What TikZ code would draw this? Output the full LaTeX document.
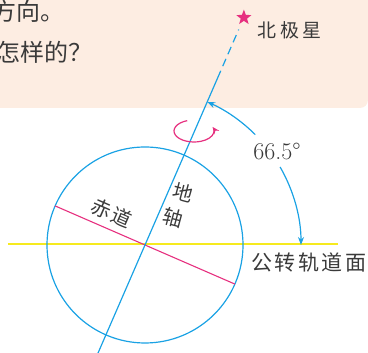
\documentclass[tikz,border=0pt]{standalone}
\usepackage{fontspec}
\usetikzlibrary{arrows.meta,shapes.geometric,calc}
\newfontfamily\cjk{Noto Sans CJK SC}
\definecolor{peach}{HTML}{FDEDE2}
\definecolor{skyb}{HTML}{1AA2E4}
\definecolor{rose}{HTML}{E6307F}
\definecolor{yel}{HTML}{F6EA1E}
\definecolor{ink}{HTML}{3A3A3A}
\tikzset{
  blueline/.style={draw=skyb,line width=1.2pt},
  tip/.style={-{Stealth[length=8pt,width=6pt]}},
  lbl/.style={text=ink,inner sep=0pt,font=\cjk\fontsize{20}{22}\selectfont},
}
\begin{document}
\begin{tikzpicture}[x=1pt,y=1pt]
\useasboundingbox (0,0) rectangle (368,353);
\clip (0,0) rectangle (368,353);
% background panel
\fill[peach,rounded corners=8pt] (-10,245) rectangle (368,365);
% top text (cut off at the left edge, as in the reference)
\node[anchor=west,text=ink,inner sep=0pt,font=\cjk\fontsize{24}{26}\selectfont] (t1) at (-8,342) {方向。};
\node[anchor=west,text=ink,inner sep=0pt,font=\cjk\fontsize{24}{26}\selectfont] (t2) at (-4,301) {怎样的？};
% geometry
\coordinate (O) at (145,108);
\coordinate (axB) at ($(O)+(246.5:125pt)$);
\coordinate (axS) at ($(O)+(66.5:182pt)$);
\coordinate (axD) at ($(O)+(66.5:235pt)$);
\coordinate (eqL) at ($(O)+(156.5:98pt)$);
\coordinate (eqR) at ($(O)+(-23.5:98pt)$);
\coordinate (yL) at (8,109);
\coordinate (yR) at (338,109);
% yellow orbit plane
\draw[yel,line width=1.6pt] (yL) -- (yR);
% earth circle
\draw[blueline] (O) circle[radius=98pt];
% equator
\draw[rose,line width=1.1pt] (eqL) -- (eqR);
% axis
\draw[blueline] (axB) -- (axS);
\draw[blueline,dash pattern=on 8pt off 5pt] (axS) -- (axD);
% star
\node[star,star points=5,star point ratio=2.4,fill=rose,minimum size=16pt,inner sep=0pt] (star) at ($(O)+(66.5:248pt)$) {};
% angle arc
\draw[blueline,tip] ($(O)+(45:156pt)$) arc[start angle=45,end angle=66.5,radius=156pt];
\draw[blueline,tip] ($(O)+(30:156pt)$) arc[start angle=30,end angle=0,radius=156pt];
% rotation arrow
\coordinate (E) at (194,222);
\draw[rose,line width=1.2pt,-{Stealth[length=7pt,width=6pt]}] ($(E)+(110:20pt and 11pt)$) arc[start angle=110,end angle=382,x radius=20pt,y radius=11pt];
% labels
\node[lbl,font=\cjk\fontsize{19}{21}\selectfont] (polaris) at (290,323) {北\hspace{3.5pt}极\hspace{3.5pt}星};
\node[text=ink,inner sep=0pt,font=\fontsize{24}{26}\selectfont] (ang) at (277,201) {66.5°};
\node[lbl,font=\cjk\fontsize{21}{23}\selectfont] (plane) at (309,90) {公\hspace{2.5pt}转\hspace{2.5pt}轨\hspace{2.5pt}道\hspace{2.5pt}面};
\node[lbl,rotate=-23.5] (equ) at (112,140) {赤\hspace{2pt}道};
\node[lbl,rotate=-15] (di) at (183,160) {地};
\node[lbl,rotate=-15] (zhou) at (173,135) {轴};
\end{tikzpicture}
\end{document}
